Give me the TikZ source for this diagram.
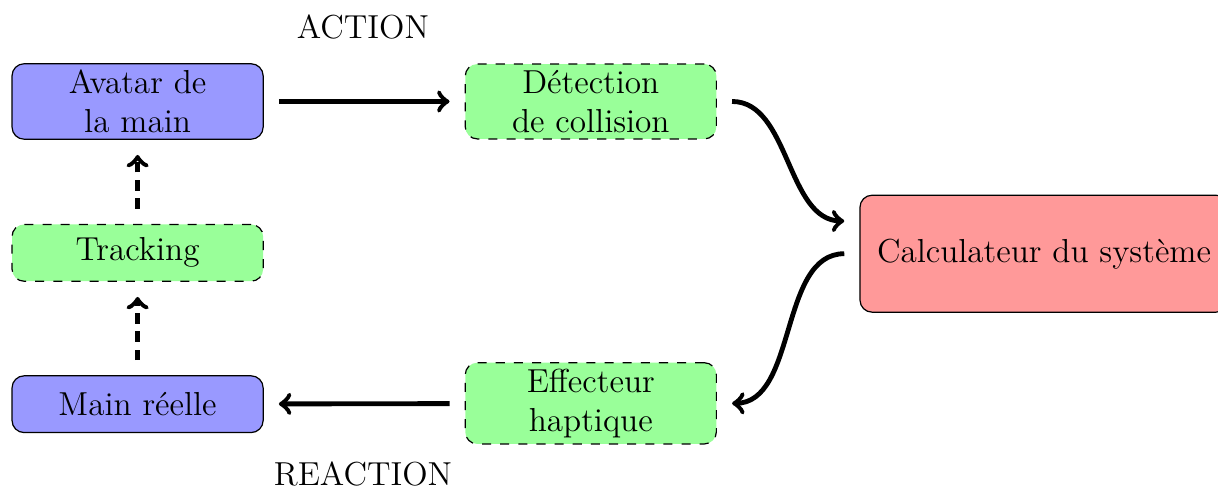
\documentclass[tikz,border=0pt]{standalone}
\begin{document}
\begin{tikzpicture}[line join = round, thick, font=\fontsize{11}{13}\selectfont,
	box/.style = {draw, rounded corners = 4pt, align = center, minimum width = 2.92cm, inner sep = 2pt},
	bluebox/.style = {box, fill = blue!40, solid},
	greenbox/.style = {box, fill = green!40, dashed, thin},
	redbox/.style = {box, fill = red!40, minimum width = 4.28cm, minimum height = 1.36cm},
	fleche/.style = {->, line width = 1.6pt, shorten > = 5pt, shorten < = 5pt},
	pointille/.style = {fleche, dash pattern = on 3.5pt off 2.5pt}]
	\useasboundingbox (0,0) rectangle (14.163,-5.709);
	\def\xa{1.60}
	\def\xb{6.87}
	\node[bluebox, thin, minimum height = 0.87cm] (avatar) at (\xa,-1.18) {Avatar de\\la main};
	\node[greenbox, minimum height = 0.66cm] (tracking) at (\xa,-2.94) {Tracking};
	\node[bluebox, thin, minimum height = 0.66cm] (reelle) at (\xa,-4.70) {Main réelle};
	\node[greenbox, minimum height = 0.87cm] (detection) at (\xb,-1.18) {Détection\\de collision};
	\node[greenbox, minimum height = 0.92cm] (effecteur) at (\xb,-4.69) {Effecteur\\haptique};
	\node[redbox, thin] (calcul) at (12.14,-2.95) {Calculateur du système};
	\node (action) at (4.22,-0.31) {ACTION};
	\node[inner sep = 1pt] (reaction) at (4.22,-5.51) {REACTION};
	\coordinate (entree) at ([yshift = 0.38cm]calcul.west);
	\draw[fleche] (avatar) -- (detection);
	\draw[fleche] (detection.east) to[out = 0, in = 180] (entree);
	\draw[fleche] (calcul.west) to[out = 180, in = 0] (effecteur.east);
	\draw[fleche] (effecteur) -- (reelle);
	\draw[pointille] (reelle) -- (tracking);
	\draw[pointille] (tracking) -- (avatar);
\end{tikzpicture}
\end{document}
